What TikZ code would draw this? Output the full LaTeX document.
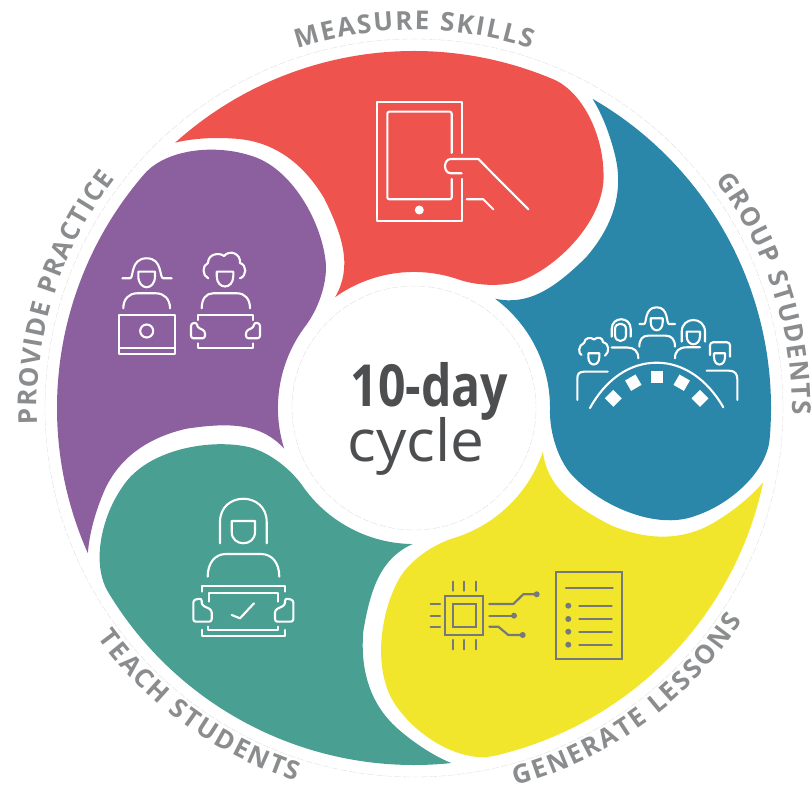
\documentclass[tikz,border=0pt]{standalone}
\usepackage{fontspec}
\setmainfont{Open Sans}
\newfontfamily\labelfont{Open Sans}
\usetikzlibrary{decorations.text}

\definecolor{redseg}{HTML}{EE534E}
\definecolor{blueseg}{HTML}{2A87A9}
\definecolor{yellowseg}{HTML}{F2E62C}
\definecolor{tealseg}{HTML}{4A9F93}
\definecolor{purpleseg}{HTML}{8C5F9F}
\definecolor{labelgray}{HTML}{8A8C8E}
\definecolor{titlegray}{HTML}{4D4E50}
\definecolor{chipgray}{HTML}{77787B}

\tikzset{
	iconline/.style={draw=white, line width=2.1pt, line cap=round, line join=round},
	chipline/.style={draw=chipgray, line width=2.2pt, line cap=round, line join=miter},
	hairline/.style={draw=gray!30, line width=0.3pt, dash pattern=on 7pt off 2pt},
	wheellabel/.style={decorate, decoration={text along path, text={|\fontsize{26}{26}\selectfont\labelfont\bfseries\color{labelgray}|#1}, text align={fit to path}}},
	seat/.style={fill=white, inner sep=0pt, minimum size=12pt}
}

\begin{document}
\begin{tikzpicture}[x=1pt, y=1pt]
	\useasboundingbox (0,0) rectangle (811,790);

	\begin{scope}[shift={(414,382)}]
		% five equal segments
		\foreach \segcolor/\segangle in {redseg/0, blueseg/-72, yellowseg/-144, tealseg/-216, purpleseg/-288} {
			\fill[\segcolor, rotate=\segangle] (132:357pt) arc[start angle=132, end angle=67, radius=357pt]
				.. controls (169.5,315.6) and (189,272) .. (189.5,235)
				.. controls (192,190) and (146,143) .. (109,128)
				.. controls (90,121) and (65,122) .. (46,128)
				arc[start angle=70.2, end angle=125.4, radius=136pt]
				.. controls (-62,140) and (-70,170) .. (-90,210)
				.. controls (-108,240) and (-135,265) .. (-175,269)
				.. controls (-197,271) and (-220,270) .. (132:357pt) -- cycle;
		}
		\draw[hairline] (0,0) circle[radius=369pt];
		\draw[hairline] (0,0) circle[radius=122pt];

		% labels round the wheel
		\path[wheellabel={MEASURE SKILLS}] (108:378pt) arc[start angle=108, end angle=72, radius=378pt];
		\path[wheellabel={GROUP STUDENTS}] (37:378pt) arc[start angle=37, end angle=-1, radius=378pt];
		\path[wheellabel={GENERATE LESSONS}] (-75:391pt) arc[start angle=-75, end angle=-33, radius=391pt];
		\path[wheellabel={TEACH STUDENTS}] (-144:391pt) arc[start angle=-144, end angle=-107.5, radius=391pt];
		\path[wheellabel={PROVIDE PRACTICE}] (182.5:377pt) arc[start angle=182.5, end angle=142.5, radius=377pt];
	\end{scope}

	\node[font=\bfseries\fontsize{58}{58}\selectfont, text=titlegray, anchor=base] (tenday) at (429.5,383.3) {\scalebox{.83}[1]{10-day}};
	\node[font=\fontsize{58}{58}\selectfont, text=titlegray, anchor=base] (cycle) at (416,328.5) {\scalebox{1.04}[1]{cycle}};

	% icons, in picture coordinates from the top
	\begin{scope}[shift={(0,790)}, yscale=-1]
		% tablet
		\draw[iconline] (461.7,153) -- (461.7,102.3) -- (377.3,102.3) -- (377.3,220.7) -- (461.7,220.7) -- (461.7,179);
		\draw[iconline, rounded corners=2pt] (451.7,153) -- (451.7,111.7) -- (387.3,111.7) -- (387.3,199.3) -- (451.7,199.3) -- (451.7,179);
		\draw[iconline] (528.3,209.3) -- (478.3,159) -- (451,159) .. controls (443,159) and (443,173.3) .. (451,173.3) -- (461.7,173.3);
		\draw[iconline] (466.7,199.3) -- (483.3,199.3) -- (493.3,209.3);
		\fill[white] (419.3,210) circle[radius=4.5pt];

		% table with five seats
		\draw[iconline] (590,408) .. controls (606,379) and (630,362.7) .. (656.7,362.7) .. controls (683,362.7) and (707,379) .. (723.3,407.3);
		\foreach \seatx/\seaty/\seatrot/\seatname in {613.3/398.3/45/seata, 633.3/382.7/30/seatb, 656.7/377.3/0/seatc, 681.7/382.7/-30/seatd, 700/398.3/-45/seate}
			\node[seat, rotate=\seatrot] (\seatname) at (\seatx,\seaty) {};
		% group, left to right
		\draw[iconline] (581.7,355) .. controls (578,354) and (578,345) .. (584,343) .. controls (585,337) and (591,337) .. (594,339.5) .. controls (598,336) and (603,338) .. (603,342) .. controls (609,343) and (610,352) .. (605,355.7);
		\draw[iconline] (588.3,353.3) -- (599.3,353.3) -- (599.3,357) .. controls (599.3,367) and (588.3,367) .. (588.3,357) -- cycle;
		\draw[iconline] (607.7,371.7) -- (584,371.7) .. controls (579,371.7) and (577.3,374) .. (577.3,379) -- (577.3,400);
		\draw[iconline] (611.7,336.7) -- (611.7,329) .. controls (611.7,316) and (630.7,316) .. (630.7,329) -- (630.7,336.7);
		\draw[iconline] (615,329) .. controls (615,322) and (626,322) .. (626,329) -- (626,335) .. controls (626,343) and (615,343) .. (615,335) -- cycle;
		\draw[iconline] (611.7,347.5) -- (627,347.5) .. controls (634,347.5) and (638.3,351) .. (638.3,358.3);
		\draw[iconline] (639.3,324) -- (644,324) .. controls (647,324) and (644,307.3) .. (656.7,307.3) .. controls (669,307.3) and (666,324) .. (669,324) -- (675,324);
		\draw[iconline] (650.7,318.3) -- (662.7,318.3) -- (662.7,322) .. controls (662.7,333) and (650.7,333) .. (650.7,322) -- cycle;
		\draw[iconline] (639.3,346.7) .. controls (639.3,339) and (643,335.7) .. (648,335.7) -- (666,335.7) .. controls (671,335.7) and (675,339) .. (675,346.7);
		\draw[iconline] (681.7,341.7) -- (681.7,332) .. controls (681.7,316) and (705,316) .. (705,332) -- (705,341.7);
		\draw[iconline] (686.7,331.7) -- (700,331.7) -- (700,336) .. controls (700,347) and (686.7,347) .. (686.7,336) -- cycle;
		\draw[iconline] (700,347.3) -- (687,347.3) .. controls (679,347.3) and (675,351) .. (675,358.3);
		\draw[iconline, rounded corners=3pt] (710,355) -- (710,342.3) -- (730,342.3) -- (730,356.7);
		\draw[iconline] (714,353.3) -- (725,353.3) -- (725,357) .. controls (725,367) and (714,367) .. (714,357) -- cycle;
		\draw[iconline] (706.7,370.7) -- (729,370.7) .. controls (735,370.7) and (737.3,374) .. (737.3,379) -- (737.3,400);

		% chip
		\draw[chipline] (445,596) rectangle (483.3,635);
		\draw[chipline] (453.3,604) rectangle (476,626.7);
		\foreach \pinx in {453.3, 464.3, 476} {
			\draw[chipline] (\pinx,581.7) -- (\pinx,590.7);
			\draw[chipline] (\pinx,640) -- (\pinx,649.3);
		}
		\foreach \piny in {604, 615.7, 626.7}
			\draw[chipline] (430.7,\piny) -- (440,\piny);
		\draw[chipline] (489.3,604) -- (513.3,604) -- (523.3,594.3) -- (536.7,594.3);
		\draw[chipline] (489.3,615.7) -- (514,615.7);
		\draw[chipline] (489.3,626.7) -- (498.3,626.7) -- (508.3,635) -- (522.7,635);
		\fill[chipgray] (536.7,594.3) circle[radius=3pt];
		\fill[chipgray] (514,615.7) circle[radius=3pt];
		\fill[chipgray] (522.7,635) circle[radius=3pt];
		% sheet
		\draw[chipline] (555.7,571.7) rectangle (621.7,659);
		\draw[chipline] (566,588.3) -- (612.7,588.3);
		\foreach \rowy in {605.7, 619, 631.7, 644.7} {
			\fill[chipgray] (568.3,\rowy) circle[radius=3pt];
			\draw[chipline] (579.3,\rowy) -- (611.7,\rowy);
		}

		% teacher
		\draw[iconline] (220,543.3) -- (220,522) .. controls (220,491) and (266.7,491) .. (266.7,522) -- (266.7,543.3);
		\draw[iconline] (231.7,521) -- (255,521) -- (255,532) .. controls (255,547) and (231.7,547) .. (231.7,532) -- cycle;
		\draw[iconline] (207.7,576.7) .. controls (207.7,563) and (215,554) .. (226,554) -- (261,554) .. controls (272,554) and (279.3,563) .. (279.3,576.7);
		\draw[iconline] (201.7,591.7) -- (201.7,586) -- (285,586) -- (285,591.7);
		\draw[iconline] (209.3,601.7) -- (209.3,592.7) -- (277.7,592.7) -- (277.7,601.7);
		\draw[iconline] (208.3,626.7) -- (208.3,630) -- (278.3,630) -- (278.3,626.7);
		\draw[iconline] (201.7,630) -- (201.7,636) -- (285,636) -- (285,630);
		\draw[iconline] (231.7,615) -- (240,618.3) -- (254,603.3);
		\draw[iconline, rounded corners=2.5pt] (193.3,621.7) -- (193.3,600) -- (201.7,598.3) -- (201.7,605) -- (211.7,610) -- (211.7,621.7) -- cycle;
		\draw[iconline, rounded corners=2.5pt] (293.3,621.7) -- (293.3,600) -- (285,598.3) -- (285,605) -- (275,610) -- (275,621.7) -- cycle;

		% two pupils
		\draw[iconline] (122.3,278.3) -- (130,278.3) .. controls (134,278.3) and (130,258.3) .. (146.7,258.3) .. controls (163,258.3) and (159,278.3) .. (163.3,278.3) -- (171.7,278.3);
		\draw[iconline] (138.3,271.7) -- (155,271.7) -- (155,276) .. controls (155,291) and (138.3,291) .. (138.3,276) -- cycle;
		\draw[iconline] (123.3,308.3) .. controls (123.3,299) and (129,293.3) .. (137,293.3) -- (156,293.3) .. controls (164,293.3) and (170,299) .. (170,308.3);
		\draw[iconline] (119,315) rectangle (175,354.3);
		\draw[iconline] (119,348.3) -- (175,348.3);
		\draw[iconline] (146.7,331) circle[radius=6.5pt];
		\draw[iconline] (208.3,278.3) .. controls (202,276) and (202,265) .. (208,263) .. controls (208,254) and (219,252) .. (224,256) .. controls (230,249) and (241,254) .. (240,263) .. controls (247,265) and (247,276) .. (240,278.3);
		\draw[iconline] (216.7,271.7) -- (233.3,271.7) -- (233.3,276) .. controls (233.3,290) and (216.7,290) .. (216.7,276) -- cycle;
		\draw[iconline] (201.7,308.3) .. controls (201.7,299) and (206,293.3) .. (213,293.3) -- (237,293.3) .. controls (245,293.3) and (250,299) .. (250,308.3);
		\draw[iconline] (197.7,320) -- (197.7,315) -- (253.3,315) -- (253.3,320);
		\draw[iconline] (197.7,343.3) -- (197.7,348.3) -- (253.3,348.3) -- (253.3,343.3);
		\draw[iconline, rounded corners=2.5pt] (191,338.3) -- (191,323.5) -- (197,322.5) -- (197,327) -- (205,331) -- (205,338.3) -- cycle;
		\draw[iconline, rounded corners=2.5pt] (260,338.3) -- (260,323.5) -- (254,322.5) -- (254,327) -- (246,331) -- (246,338.3) -- cycle;
	\end{scope}
\end{tikzpicture}
\end{document}
